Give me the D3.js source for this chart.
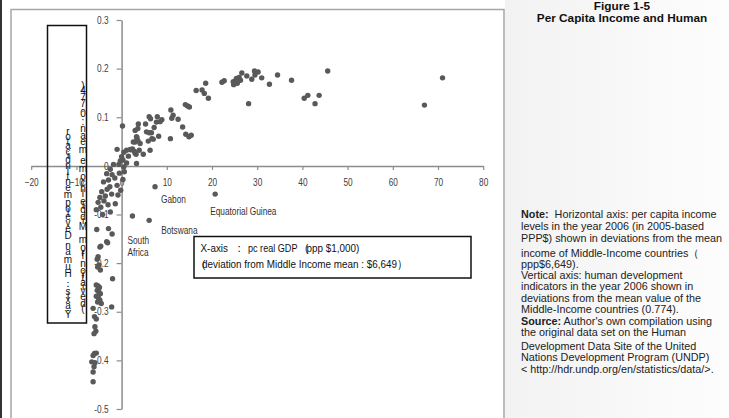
<!DOCTYPE html>
<html>
<head>
<meta charset="utf-8">
<script src="https://cdn.jsdelivr.net/npm/d3@7"></script>
<style>
  body { margin: 0; background: #fff; }
  svg { display: block; }
</style>
</head>
<body>
<div id="chart"></div>
<script>
// tick values
const xTicks = [-20, -10, 0, 10, 20, 30, 40, 50, 60, 70, 80];
const yTicks = [0.3, 0.2, 0.1, 0, -0.1, -0.2, -0.3, -0.4, -0.5];

// [gdp deviation ($1,000), hdi deviation]
const upperBranch = [
  [45.6, 0.195], [37.6, 0.176], [34.5, 0.187], [32.7, 0.168], [31.0, 0.181], [30.2, 0.193],
  [29.4, 0.195], [29.5, 0.187], [28.8, 0.178], [28.1, 0.128], [27.7, 0.185], [26.6, 0.191],
  [26.3, 0.176], [26.0, 0.182], [25.6, 0.170], [25.4, 0.180], [25.1, 0.174], [24.8, 0.167],
  [24.7, 0.173], [22.7, 0.175], [22.2, 0.172], [18.6, 0.170], [18.3, 0.149], [17.8, 0.156],
  [19.2, 0.139], [16.5, 0.155], [15.0, 0.121], [14.6, 0.123], [14.1, 0.126], [13.5, 0.080],
  [14.2, 0.065], [14.9, 0.060], [15.4, 0.063], [12.5, 0.096], [11.4, 0.104], [10.9, 0.115],
  [11.1, 0.098], [10.8, 0.056], [8.9, 0.095], [8.5, 0.091], [7.9, 0.101], [7.7, 0.090],
  [8.2, 0.061], [40.4, 0.139], [41.2, 0.145], [43.7, 0.145], [42.8, 0.128], [67.0, 0.125],
  [71.0, 0.181]
];

const middleGroup = [
  [6.1, 0.101], [6.4, 0.097], [7.2, 0.079], [6.7, 0.056], [7.0, 0.055], [6.6, 0.068],
  [6.1, 0.068], [5.5, 0.070], [5.9, 0.051], [6.3, 0.032], [5.3, 0.086], [4.8, 0.024],
  [4.1, 0.046], [3.7, 0.086], [3.6, 0.077], [3.3, 0.060], [3.0, 0.073], [3.0, 0.049],
  [3.4, 0.058], [2.6, 0.049], [3.6, 0.052], [3.9, 0.032], [3.0, 0.026], [2.0, 0.033],
  [3.2, 0.024], [3.3, 0.005], [1.9, 0.034], [1.1, 0.032], [0.2, 0.082], [0.0, 0.019],
  [0.5, 0.028], [1.1, 0.006], [0.5, -0.002], [0.3, 0.012], [1.5, 0.020], [2.4, 0.035],
  [2.8, 0.030]
];

const nearOrigin = [
  [-1.0, 0.034], [-0.3, 0.010], [-0.6, 0.003], [-1.8, 0.003], [-2.5, -0.007], [-3.3, -0.016],
  [-2.1, -0.018], [-2.9, -0.029], [-1.5, -0.025], [-4.0, -0.033], [-2.6, -0.043], [-3.2, -0.048],
  [-4.4, -0.053], [-1.0, -0.040], [-0.5, -0.015], [-0.8, -0.060], [-3.6, -0.062], [-4.8, -0.065],
  [-5.2, -0.075], [-3.0, -0.080], [-1.4, -0.078], [-4.6, -0.085], [0.3, -0.028], [0.6, -0.012],
  [-0.2, -0.050], [-2.2, -0.058], [-3.9, -0.072], [-5.6, -0.090], [-2.5, -0.095], [-4.2, -0.100]
];

const lowerBranch = [
  [-5.5, -0.131], [-2.9, -0.129], [-2.1, -0.140], [-3.3, -0.156], [-3.1, -0.158], [-4.8, -0.167],
  [-4.6, -0.165], [-5.2, -0.187], [-5.4, -0.192], [-5.0, -0.204], [-5.3, -0.208], [-4.7, -0.214],
  [-2.0, -0.232], [-5.6, -0.245], [-5.2, -0.247], [-4.9, -0.250], [-5.4, -0.256], [-5.0, -0.260],
  [-4.7, -0.263], [-5.6, -0.268], [-5.1, -0.272], [-4.8, -0.276], [-5.3, -0.280], [-4.5, -0.283],
  [-2.2, -0.290], [-6.3, -0.293], [-6.0, -0.310], [-5.6, -0.315], [-5.9, -0.331], [-5.7, -0.340],
  [-6.1, -0.345], [-6.0, -0.386], [-5.6, -0.385], [-6.3, -0.390], [-6.6, -0.403], [-5.9, -0.405],
  [-6.1, -0.413], [-6.3, -0.424], [-6.3, -0.444]
];

const namedCountries = [
  { name: "Gabon", x: 7.4, y: -0.043 },
  { name: "Equatorial Guinea", x: 20.7, y: -0.058 },
  { name: "South Africa", x: 2.4, y: -0.103 },
  { name: "Botswana", x: 6.1, y: -0.112 }
];

const titleLines = ["Figure 1-5", "Per Capita Income and Human"];
const yAxisTitle = "Y-axis：Human Development Indicator";
const yAxisNote = "(deviation from Middle Income mean : 0.774)";
const xAxisTitle = ["X-axis", "：", "pc real GDP", "(", "ppp $1,000)"];
const xAxisNote = "deviation from Middle Income mean : $6,649）";

const noteLines = [
  ["Note:", "  Horizontal axis: per capita income"],
  ["", "levels in the year 2006 (in 2005-based"],
  ["", "PPP$) shown in deviations from the mean"],
  ["", "income of Middle-Income countries（"],
  ["", "ppp$6,649)."],
  ["", "Vertical axis: human development"],
  ["", "indicators in the year 2006 shown in"],
  ["", "deviations from the mean value of the"],
  ["", "Middle-Income countries (0.774)."],
  ["Source:", " Author's own compilation using"],
  ["", "the original data set on the Human"],
  ["", "Development Data Site of the United"],
  ["", "Nations Development Program (UNDP)"],
  ["", "< http://hdr.undp.org/en/statistics/data/>."]
];

const W = 729, H = 418;
const sans = "'Liberation Sans', Arial, sans-serif";
const squeeze = 0.83; // the picture's chart labels are a narrow face

const svg = d3.select("#chart").append("svg")
  .attr("width", W)
  .attr("height", H);

svg.append("rect").attr("width", W).attr("height", H).attr("fill", "#fff");

// faint grey behind the side panel
const grad = svg.append("defs").append("linearGradient").attr("id", "side");
grad.append("stop").attr("offset", "0%").attr("stop-color", "#f2f2f2");
grad.append("stop").attr("offset", "100%").attr("stop-color", "#fdfdfd");
svg.append("rect").attr("x", 505).attr("y", 0).attr("width", W - 505).attr("height", H)
  .attr("fill", "url(#side)");

// page edge and chart frame
svg.append("rect").attr("x", 0).attr("y", 0).attr("width", 2).attr("height", H).attr("fill", "#333");
svg.append("path")
  .attr("d", `M11,${H} V9.5 H504 V${H}`)
  .attr("fill", "none")
  .attr("stroke", "#a6a6a6")
  .attr("stroke-width", 1.5);

const x = d3.scaleLinear().domain([-20, 80]).range([31.2, 483.2]);
const y = d3.scaleLinear().domain([-0.5, 0.3]).range([409, 20]);

// x axis crosses at y = 0
const gx = svg.append("g")
  .attr("transform", `translate(0,${y(0)})`)
  .call(d3.axisBottom(x).tickValues(xTicks).tickSize(4).tickSizeOuter(0).tickPadding(9));

// y axis crosses at x = 0
const gy = svg.append("g")
  .attr("transform", `translate(${x(0)},0)`)
  .call(d3.axisLeft(y).tickValues(yTicks).tickSize(5).tickSizeOuter(0).tickPadding(8)
    .tickFormat(d => d === 0 ? "0" : d.toFixed(1)));

[gx, gy].forEach(g => {
  g.select(".domain").attr("stroke", "#8c8c8c").attr("stroke-width", 1.5);
  g.selectAll(".tick line").attr("stroke", "#8c8c8c").attr("stroke-width", 1.2);
  g.selectAll(".tick text")
    .attr("fill", "#404040")
    .style("font-family", sans)
    .style("font-size", "10px")
    .each(function () {
      const t = d3.select(this);
      const tx = +t.attr("x") || 0;
      t.attr("x", tx / squeeze).attr("transform", `scale(${squeeze},1)`);
    });
});

// scatter points
const allPoints = upperBranch.concat(middleGroup, nearOrigin, lowerBranch,
  namedCountries.map(d => [d.x, d.y]));

svg.append("g").selectAll("circle")
  .data(allPoints)
  .enter()
  .append("circle")
  .attr("cx", d => x(d[0]))
  .attr("cy", d => y(d[1]))
  .attr("r", 2.7)
  .attr("fill", "#595959");

// narrow text helper
function narrowText(px, py, str, size, sx, opts = {}) {
  return svg.append("text")
    .attr("transform", `translate(${px},${py}) scale(${sx},1)`)
    .attr("text-anchor", opts.anchor || "start")
    .attr("fill", opts.fill || "#333")
    .style("font-family", sans)
    .style("font-size", size + "px")
    .style("font-weight", opts.weight || "normal")
    .text(str);
}

// country labels
const labelOffset = {
  "Gabon": [[6, 13]],
  "Equatorial Guinea": [[-5, 17]],
  "Botswana": [[12, 10]],
  "South Africa": [[-5, 25], [-5, 37]]
};

namedCountries.forEach(c => {
  const words = c.name === "South Africa" ? ["South", "Africa"] : [c.name];
  words.forEach((w, i) => {
    const off = labelOffset[c.name][i];
    narrowText(x(c.x) + off[0], y(c.y) + off[1] + 3.5, w, 10, squeeze);
  });
});

// box with the stacked vertical Y-axis caption
svg.append("rect")
  .attr("x", 47.5).attr("y", 25.5).attr("width", 39).attr("height", 297.5)
  .attr("fill", "none").attr("stroke", "#111").attr("stroke-width", 1.5);

function stackColumn(str, cx, top, bottom) {
  const probe = svg.append("text")
    .style("font-family", sans).style("font-size", "10px")
    .text(str);
  const node = probe.node();
  const total = node.getComputedTextLength();
  const k = (bottom - top) / total;
  Array.from(str).forEach((ch, i) => {
    if (ch === " ") return;
    const start = node.getStartPositionOfChar(i).x;
    const w = node.getSubStringLength(i, 1);
    svg.append("text")
      .attr("x", cx)
      .attr("y", bottom - (start + w / 2) * k)
      .attr("text-anchor", "middle")
      .attr("dominant-baseline", "central")
      .attr("fill", "#111")
      .style("font-family", sans)
      .style("font-size", "10px")
      .text(ch);
  });
  probe.remove();
}
stackColumn(yAxisTitle, 68, 130, 318);
stackColumn(yAxisNote, 83, 84, 310);

// X-axis caption box
svg.append("rect")
  .attr("x", 194).attr("y", 236.5).attr("width", 277).attr("height", 41.5)
  .attr("fill", "#fff").attr("stroke", "#111").attr("stroke-width", 1.5);

const capX = [200.5, 234, 248, 305, 306.5];
const capSx = [0.86, 0.86, 0.79, 0.86, 0.86];
xAxisTitle.forEach((s, i) => narrowText(capX[i], 251.5, s, 11.5, capSx[i], { fill: "#111" }));
narrowText(202, 268, "(", 11.5, 0.86, { fill: "#111" });
narrowText(202, 268, xAxisNote, 11.5, 0.86, { fill: "#111" });

// title
titleLines.forEach((t, i) => {
  svg.append("text")
    .attr("x", 622)
    .attr("y", 10 + i * 12)
    .attr("text-anchor", "middle")
    .attr("fill", "#111")
    .style("font-family", sans)
    .style("font-size", "11.8px")
    .style("font-weight", "bold")
    .text(t);
});

// note block
const noteY = [218, 230, 242, 256.5, 268, 278.5, 290, 301.5, 312.5, 324.5, 336, 349.5, 361, 373];
noteLines.forEach((ln, i) => {
  const t = svg.append("text")
    .attr("x", 521)
    .attr("y", noteY[i])
    .attr("fill", "#222")
    .attr("xml:space", "preserve")
    .style("font-family", sans)
    .style("font-size", "10.8px")
    .style("white-space", "pre");
  if (ln[0]) t.append("tspan").style("font-weight", "bold").text(ln[0]);
  t.append("tspan").text(ln[1]);
});
</script>
</body>
</html>
